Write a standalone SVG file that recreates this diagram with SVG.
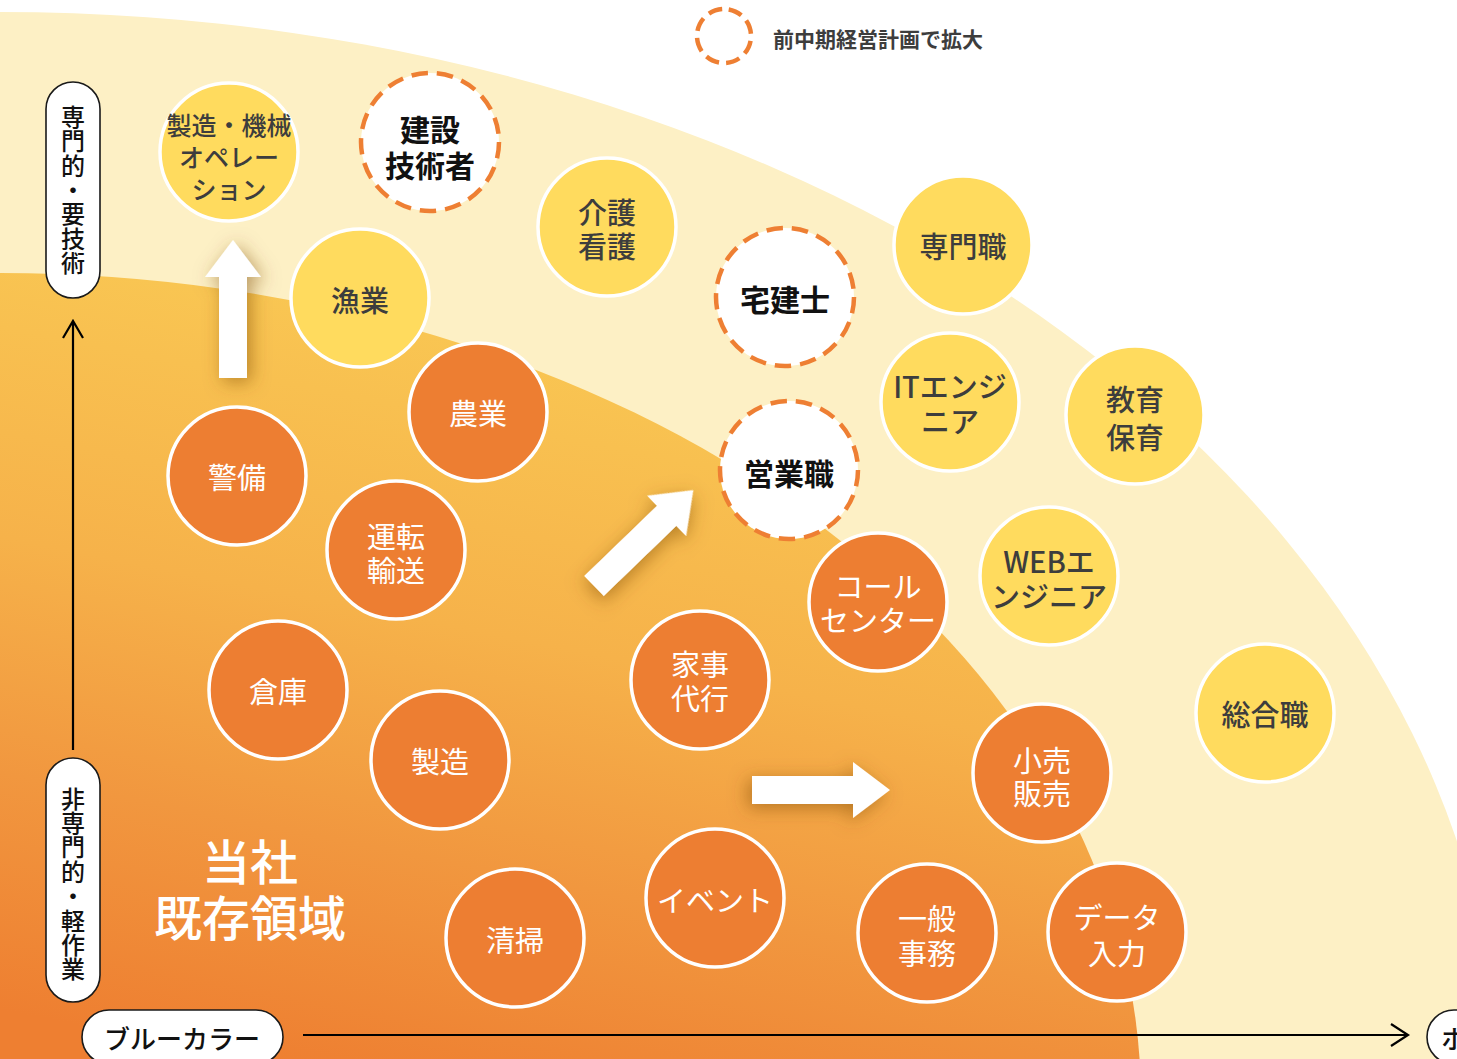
<svg xmlns="http://www.w3.org/2000/svg" width="1457" height="1059" viewBox="0 0 1457 1059">
<style>
text{font-family:'Noto Sans CJK JP','Noto Sans',sans-serif;text-anchor:middle;dominant-baseline:central}
.y{fill:#FFDB5E;stroke:#fff;stroke-width:3.5}
.o{fill:#ED7E32;stroke:#fff;stroke-width:3.5}
.d{fill:#fff;stroke:#EE7F33;stroke-width:4.5;stroke-dasharray:16.5 9}
.ty{fill:#3D3D3D;font-size:29px;font-weight:500}
.to{fill:#fff;font-size:29px;font-weight:400}
.td{fill:#111;font-size:30px;font-weight:700}
.pill{fill:#fff;stroke:#1a1a1a;stroke-width:1.6}
.tv{fill:#111;font-size:24px;font-weight:500;writing-mode:vertical-rl;letter-spacing:0.4px}
.ax{fill:none;stroke:#000;stroke-width:2.2}
</style>
<defs>
<linearGradient id="gin" gradientUnits="userSpaceOnUse" x1="400" y1="300" x2="250" y2="1059">
<stop offset="0" stop-color="#F9C753"/>
<stop offset="0.4" stop-color="#F6B24A"/>
<stop offset="0.7" stop-color="#F1973F"/>
<stop offset="1" stop-color="#EE7F31"/>
</linearGradient>
<filter id="sh" x="-60%" y="-60%" width="220%" height="220%">
<feDropShadow dx="-4" dy="4" stdDeviation="9" flood-color="#7a4600" flood-opacity="0.5"/>
</filter>
<path id="arw" d="M0,-14 H101 V-28 L138,0 L101,28 V14 H0 Z" fill="#fff"/>
</defs>
<rect width="1457" height="1059" fill="#fff"/>
<g id="regions">
<ellipse cx="0" cy="1100" rx="1500" ry="1088" fill="#FDF0C5"/>
<ellipse cx="0" cy="1100" rx="1141" ry="827" fill="url(#gin)"/>
</g>
<g id="legend">
<circle cx="724" cy="36" r="27" fill="none" stroke="#EE7F33" stroke-width="4.5" stroke-dasharray="14 7.2" transform="rotate(-80 724 36)"/>
<text x="773" y="38" style="text-anchor:start;font-size:21px;font-weight:700;fill:#3D3D3D">前中期経営計画で拡大</text>
</g>
<g id="connectors">
<use href="#arw" transform="translate(233,378) rotate(-90)" filter="url(#sh)"/>
<use href="#arw" transform="translate(594,586) rotate(-44)" filter="url(#sh)"/>
<use href="#arw" transform="translate(752,790)" filter="url(#sh)"/>
<path class="ax" d="M73,750 V321 M63,338 L73,321 L83,338"/>
<path class="ax" d="M303,1035 H1408 M1391,1024 L1408,1035 L1391,1046"/>
</g>
<g id="axis-top">
<rect class="pill" x="46" y="82" width="54" height="216" rx="27"/>
<text class="tv" x="73" y="190">専門的・要技術</text>
</g>
<g id="axis-bottom">
<rect class="pill" x="46" y="758" width="54" height="244" rx="27"/>
<text class="tv" x="73" y="884">非専門的・軽作業</text>
</g>
<g id="axis-left">
<rect class="pill" x="82" y="1010" width="201" height="54" rx="27"/>
<text x="182" y="1037" style="fill:#111;font-size:26px;font-weight:500">ブルーカラー</text>
</g>
<g id="axis-right">
<rect class="pill" x="1427" y="1010" width="201" height="54" rx="27"/>
<text x="1441" y="1037" style="text-anchor:start;fill:#111;font-size:26px;font-weight:500">ホ</text>
</g>
<g id="existing">
<text x="250" y="859" style="fill:#fff;font-size:48px;font-weight:500">当社</text>
<text x="250" y="915" style="fill:#fff;font-size:48px;font-weight:500">既存領域</text>
</g>
<g id="n-seizo-kikai"><circle class="y" cx="229" cy="152" r="69"/><text class="ty" style="font-size:25px"><tspan x="229" y="123.5">製造・機械</tspan><tspan x="229" y="155.5">オペレー</tspan><tspan x="229" y="187.5">ション</tspan></text></g>
<g id="n-kensetsu"><circle class="d" cx="430" cy="142" r="69"/><text class="td"><tspan x="430" y="127.5">建設</tspan><tspan x="430" y="163.5">技術者</tspan></text></g>
<g id="n-gyogyo"><circle class="y" cx="360" cy="298" r="69"/><text class="ty" x="360" y="299">漁業</text></g>
<g id="n-kaigo"><circle class="y" cx="607" cy="227" r="69"/><text class="ty"><tspan x="607" y="211">介護</tspan><tspan x="607" y="245">看護</tspan></text></g>
<g id="n-senmon"><circle class="y" cx="963" cy="245" r="69"/><text class="ty" x="963" y="245">専門職</text></g>
<g id="n-takken"><circle class="d" cx="785" cy="297" r="69"/><text class="td" x="785" y="298">宅建士</text></g>
<g id="n-it"><circle class="y" cx="950" cy="402" r="69"/><text class="ty"><tspan x="950" y="385">ITエンジ</tspan><tspan x="950" y="420">ニア</tspan></text></g>
<g id="n-kyoiku"><circle class="y" cx="1135" cy="415" r="69"/><text class="ty"><tspan x="1135" y="397.5">教育</tspan><tspan x="1135" y="435.5">保育</tspan></text></g>
<g id="n-eigyo"><circle class="d" cx="789" cy="470" r="69"/><text class="td" x="789" y="472">営業職</text></g>
<g id="n-web"><circle class="y" cx="1049" cy="576" r="69"/><text class="ty"><tspan x="1049" y="559.5">WEBエ</tspan><tspan x="1049" y="594.5">ンジニア</tspan></text></g>
<g id="n-sogo"><circle class="y" cx="1265" cy="713" r="69"/><text class="ty" x="1265" y="713">総合職</text></g>
<g id="n-nogyo"><circle class="o" cx="478" cy="412" r="69"/><text class="to" x="478" y="412">農業</text></g>
<g id="n-keibi"><circle class="o" cx="237" cy="476" r="69"/><text class="to" x="237" y="476">警備</text></g>
<g id="n-unten"><circle class="o" cx="396" cy="550" r="69"/><text class="to"><tspan x="396" y="535">運転</tspan><tspan x="396" y="569">輸送</tspan></text></g>
<g id="n-soko"><circle class="o" cx="278" cy="690" r="69"/><text class="to" x="278" y="690">倉庫</text></g>
<g id="n-seizo"><circle class="o" cx="440" cy="760" r="69"/><text class="to" x="440" y="760">製造</text></g>
<g id="n-kaji"><circle class="o" cx="700" cy="680" r="69"/><text class="to"><tspan x="700" y="663">家事</tspan><tspan x="700" y="697">代行</tspan></text></g>
<g id="n-call"><circle class="o" cx="878" cy="602" r="69"/><text class="to"><tspan x="878" y="585">コール</tspan><tspan x="878" y="619">センター</tspan></text></g>
<g id="n-kouri"><circle class="o" cx="1042" cy="773" r="69"/><text class="to"><tspan x="1042" y="758.5">小売</tspan><tspan x="1042" y="792">販売</tspan></text></g>
<g id="n-event"><circle class="o" cx="715" cy="898" r="69"/><text class="to" x="715" y="899">イベント</text></g>
<g id="n-seiso"><circle class="o" cx="515" cy="938" r="69"/><text class="to" x="515" y="939">清掃</text></g>
<g id="n-jimu"><circle class="o" cx="927" cy="933" r="69"/><text class="to"><tspan x="927" y="917">一般</tspan><tspan x="927" y="952">事務</tspan></text></g>
<g id="n-data"><circle class="o" cx="1117" cy="932" r="69"/><text class="to"><tspan x="1117" y="916">データ</tspan><tspan x="1117" y="952">入力</tspan></text></g>
</svg>
